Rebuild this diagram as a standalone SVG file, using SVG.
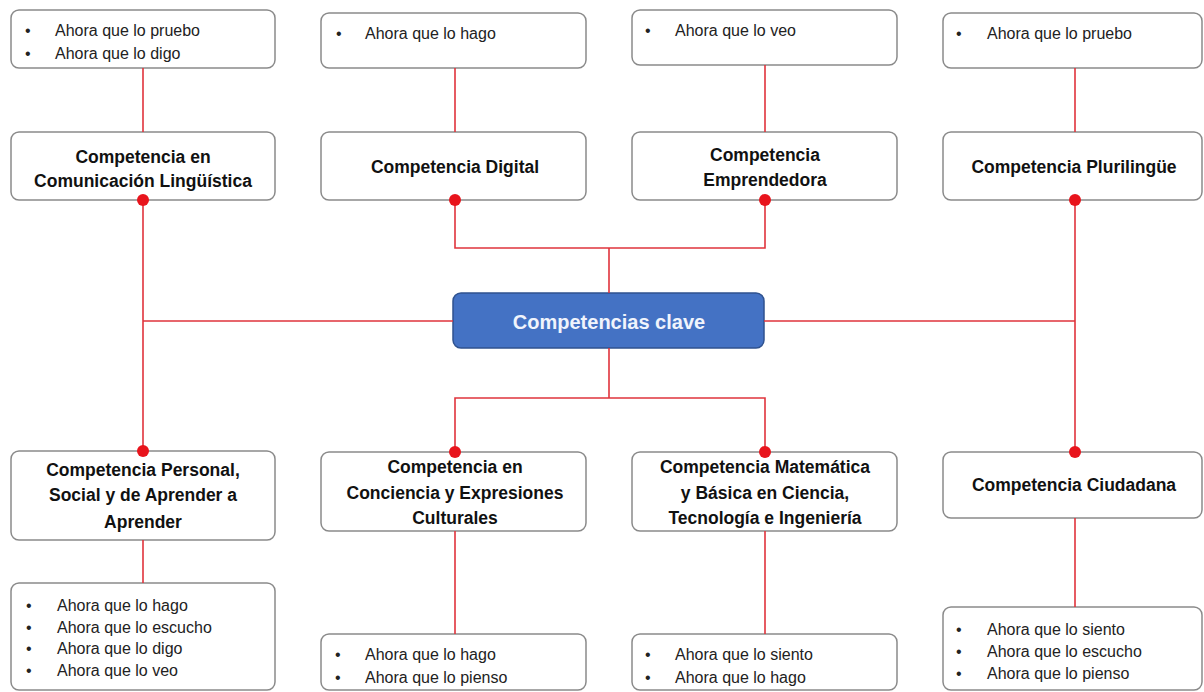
<svg xmlns="http://www.w3.org/2000/svg" width="1204" height="692" viewBox="0 0 1204 692">
<style>
.box{fill:#fff;stroke:#8a8a8a;stroke-width:1.5}
.main{fill:#4472C4;stroke:#2F528F;stroke-width:1.5}
.lbl{font-family:"Liberation Sans",Arial,sans-serif;font-weight:bold;font-size:17.5px;fill:#111;text-anchor:middle;dominant-baseline:central}
.mlbl{font-family:"Liberation Sans",Arial,sans-serif;font-weight:bold;font-size:20px;fill:#F0F4FC;text-anchor:middle;dominant-baseline:central}
.bl{font-family:"Liberation Sans",Arial,sans-serif;font-size:16px;fill:#222;dominant-baseline:central}
.con{fill:none;stroke:#E0343C;stroke-width:1.6}
.dot{fill:#E8141C}
</style>
<g id="center">
<rect class="main" x="453" y="293" width="311" height="55" rx="8"/>
<text class="mlbl" x="609" y="322">Competencias clave</text>
</g>
<g id="top1-list">
<rect class="box" x="11" y="10" width="264" height="58" rx="8"/>
<text class="bl" x="25" y="30">•</text><text class="bl" x="55" y="30">Ahora que lo pruebo</text>
<text class="bl" x="25" y="53">•</text><text class="bl" x="55" y="53">Ahora que lo digo</text>
</g>
<g id="top2-list">
<rect class="box" x="321" y="13" width="265" height="55" rx="8"/>
<text class="bl" x="336" y="33">•</text><text class="bl" x="365" y="33">Ahora que lo hago</text>
</g>
<g id="top3-list">
<rect class="box" x="632" y="10" width="265" height="55" rx="8"/>
<text class="bl" x="645" y="30">•</text><text class="bl" x="675" y="30">Ahora que lo veo</text>
</g>
<g id="top4-list">
<rect class="box" x="943" y="13" width="259" height="55" rx="8"/>
<text class="bl" x="956" y="33">•</text><text class="bl" x="987" y="33">Ahora que lo pruebo</text>
</g>
<g id="comp-linguistica">
<rect class="box" x="11" y="132" width="264" height="68" rx="8"/>
<text class="lbl" x="143" y="157">Competencia en</text>
<text class="lbl" x="143" y="181">Comunicación Lingüística</text>
</g>
<g id="comp-digital">
<rect class="box" x="321" y="132" width="265" height="68" rx="8"/>
<text class="lbl" x="455" y="167">Competencia Digital</text>
</g>
<g id="comp-emprendedora">
<rect class="box" x="632" y="132" width="265" height="68" rx="8"/>
<text class="lbl" x="765" y="155">Competencia</text>
<text class="lbl" x="765" y="180">Emprendedora</text>
</g>
<g id="comp-plurilingue">
<rect class="box" x="943" y="132" width="259" height="68" rx="8"/>
<text class="lbl" x="1074" y="167">Competencia Plurilingüe</text>
</g>
<g id="comp-personal">
<rect class="box" x="11" y="451" width="264" height="89" rx="8"/>
<text class="lbl" x="143" y="470">Competencia Personal,</text>
<text class="lbl" x="143" y="495">Social y de Aprender a</text>
<text class="lbl" x="143" y="522">Aprender</text>
</g>
<g id="comp-cultural">
<rect class="box" x="321" y="452" width="265" height="79" rx="8"/>
<text class="lbl" x="455" y="467">Competencia en</text>
<text class="lbl" x="455" y="493">Conciencia y Expresiones</text>
<text class="lbl" x="455" y="518">Culturales</text>
</g>
<g id="comp-matematica">
<rect class="box" x="632" y="452" width="265" height="79" rx="8"/>
<text class="lbl" x="765" y="467">Competencia Matemática</text>
<text class="lbl" x="765" y="493">y Básica en Ciencia,</text>
<text class="lbl" x="765" y="518">Tecnología e Ingeniería</text>
</g>
<g id="comp-ciudadana">
<rect class="box" x="943" y="452" width="259" height="66" rx="8"/>
<text class="lbl" x="1074" y="485">Competencia Ciudadana</text>
</g>
<g id="bot1-list">
<rect class="box" x="11" y="583" width="264" height="107" rx="8"/>
<text class="bl" x="26" y="605">•</text><text class="bl" x="57" y="605">Ahora que lo hago</text>
<text class="bl" x="26" y="627">•</text><text class="bl" x="57" y="627">Ahora que lo escucho</text>
<text class="bl" x="26" y="648">•</text><text class="bl" x="57" y="648">Ahora que lo digo</text>
<text class="bl" x="26" y="670">•</text><text class="bl" x="57" y="670">Ahora que lo veo</text>
</g>
<g id="bot2-list">
<rect class="box" x="321" y="634" width="265" height="56" rx="8"/>
<text class="bl" x="335" y="654">•</text><text class="bl" x="365" y="654">Ahora que lo hago</text>
<text class="bl" x="335" y="677">•</text><text class="bl" x="365" y="677">Ahora que lo pienso</text>
</g>
<g id="bot3-list">
<rect class="box" x="632" y="634" width="265" height="56" rx="8"/>
<text class="bl" x="645" y="654">•</text><text class="bl" x="675" y="654">Ahora que lo siento</text>
<text class="bl" x="645" y="677">•</text><text class="bl" x="675" y="677">Ahora que lo hago</text>
</g>
<g id="bot4-list">
<rect class="box" x="943" y="607" width="259" height="83" rx="8"/>
<text class="bl" x="956" y="629">•</text><text class="bl" x="987" y="629">Ahora que lo siento</text>
<text class="bl" x="956" y="651">•</text><text class="bl" x="987" y="651">Ahora que lo escucho</text>
<text class="bl" x="956" y="673">•</text><text class="bl" x="987" y="673">Ahora que lo pienso</text>
</g>
<g id="connectors">
<path class="con" d="M143 68V132M455 68V132M765 65V132M1075 68V132"/>
<path class="con" d="M143 540V583M455 531V634M765 531V634M1075 518V607"/>
<path class="con" d="M609 293V248M455 200V248H765V200"/>
<path class="con" d="M609 348V398M455 452V398H765V452"/>
<path class="con" d="M453 321H143M143 200V452"/>
<path class="con" d="M764 321H1075M1075 200V452"/>
<circle class="dot" cx="143" cy="200" r="6"/>
<circle class="dot" cx="455" cy="200" r="6"/>
<circle class="dot" cx="765" cy="200" r="6"/>
<circle class="dot" cx="1075" cy="200" r="6"/>
<circle class="dot" cx="143" cy="451" r="6"/>
<circle class="dot" cx="455" cy="452" r="6"/>
<circle class="dot" cx="765" cy="452" r="6"/>
<circle class="dot" cx="1075" cy="452" r="6"/>
</g>
</svg>
